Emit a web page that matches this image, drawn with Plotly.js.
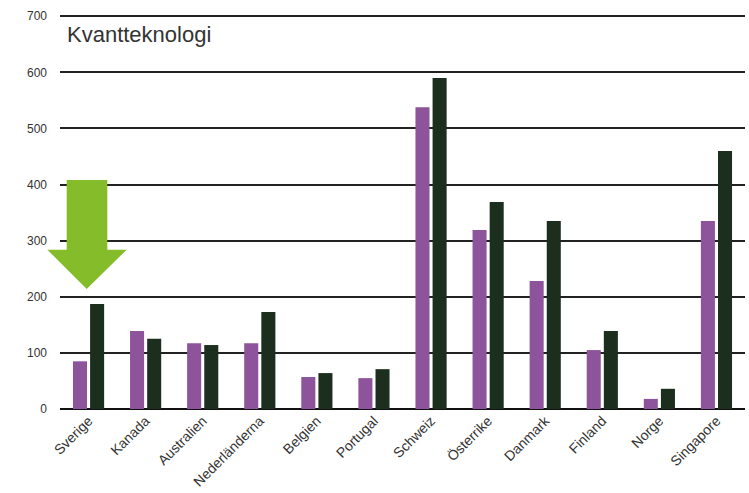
<!DOCTYPE html>
<html><head><meta charset="utf-8">
<script src="https://cdn.plot.ly/plotly-3.0.1.min.js"></script>
<style>html,body{margin:0;padding:0;background:#fff;}</style>
</head><body>
<div id="chart" style="width:749px;height:493px;"></div>
<script>
const categories = ["Sverige","Kanada","Australien","Nederländerna","Belgien","Portugal","Schweiz","Österrike","Danmark","Finland","Norge","Singapore"];
const seriesA = [85, 139, 117, 117, 57, 55, 538, 319, 228, 105, 18, 335];
const seriesB = [187, 125, 114, 173, 64, 71, 590, 369, 335, 139, 36, 460];
const yTicks = [0, 100, 200, 300, 400, 500, 600, 700];
const titleText = "Kvantteknologi";

const font = "Liberation Sans, Arial, sans-serif";
const traces = [
  {type:"bar", x:categories, y:seriesA, marker:{color:"#8d539b"}, hoverinfo:"skip"},
  {type:"bar", x:categories, y:seriesB, marker:{color:"#1c2e1e"}, hoverinfo:"skip"}
];
// plot area: x 60..745 px (paper), arrow over Sverige
const pl = 60, pw = 685;
const px = v => (v - pl) / pw;
const arrowPath = `M ${px(66.7)} 408 L ${px(107.3)} 408 L ${px(107.3)} 284 L ${px(126.7)} 284 L ${px(86.7)} 214 L ${px(47.3)} 284 L ${px(66.7)} 284 Z`;

const layout = {
  width:749, height:493,
  margin:{l:60, r:4, t:14, b:84},
  paper_bgcolor:"#fff", plot_bgcolor:"#fff",
  showlegend:false,
  barmode:"group", bargap:0.40, bargroupgap:0.18,
  title:{text:titleText, x:67/749, xanchor:"left", y:1-34/493, yanchor:"middle",
         font:{family:font, size:22, color:"#333"}},
  xaxis:{type:"category", tickangle:-45, showgrid:false, zeroline:false, showline:false,
         ticks:"", tickfont:{family:font, size:14, color:"#333"}},
  yaxis:{range:[0,704], tickvals:yTicks, ticktext:yTicks.map(String), showgrid:true,
         gridcolor:"#222", gridwidth:2, zeroline:true, zerolinecolor:"#111", zerolinewidth:2,
         showline:false, ticks:"", ticklabelstandoff:12,
         tickfont:{family:font, size:12, color:"#333"}},
  shapes:[{type:"path", xref:"paper", yref:"y", path:arrowPath,
           fillcolor:"#84bc2a", line:{width:0}, layer:"above"}]
};
Plotly.newPlot("chart", traces, layout, {displayModeBar:false, staticPlot:true});
</script>
</body></html>
